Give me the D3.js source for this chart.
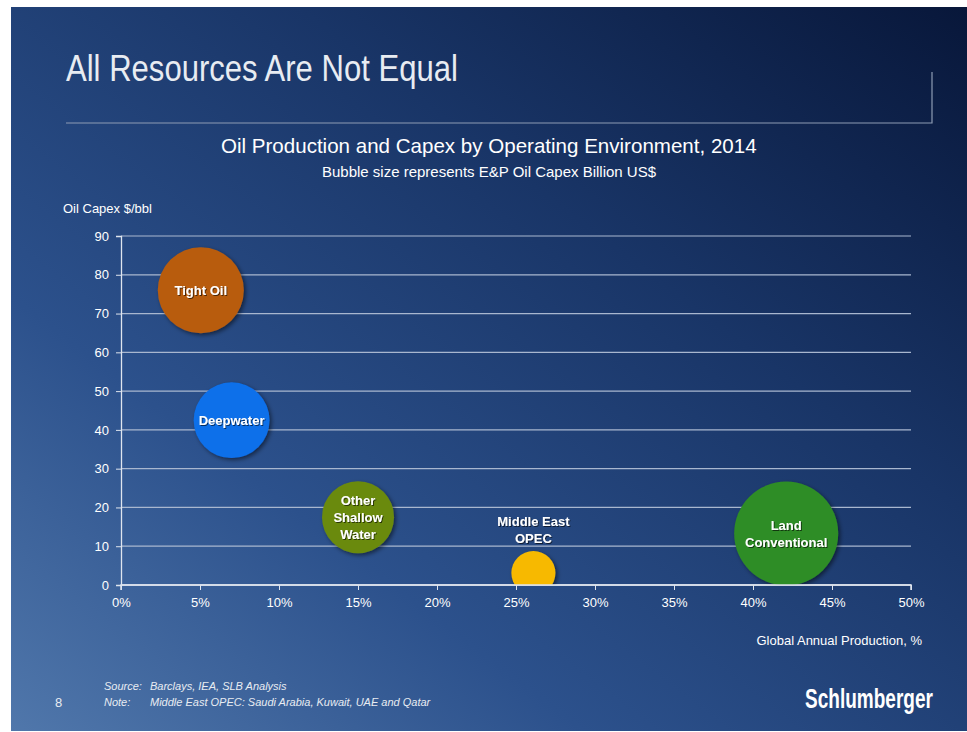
<!DOCTYPE html>
<html>
<head>
<meta charset="utf-8">
<script src="https://cdn.jsdelivr.net/npm/d3@7"></script>
<style>
  body { margin:0; background:#fff; }
  svg { display:block; }
  text { font-family:"Liberation Sans Narrow","Liberation Sans",Arial,sans-serif; }
</style>
</head>
<body>
<svg width="967" height="732"></svg>
<script>
  const svgWidth=967;
  const svgHeight=732;

  // data
  const environments=["Tight Oil","Deepwater","Other Shallow Water","Middle East OPEC","Land Conventional"];
  const production=[5.05,7.0,15.0,26.1,42.1];   // Global annual production, %
  const capexPerBbl=[76,42.5,17.5,3.1,13.3];    // Oil capex $/bbl
  const capexBillion=[130,101,91,34,190];       // E&P oil capex, billion US$
  const bubbleColors=["#b85c0e","#0b6fea","#6b8a10","#f7b900","#2f8d25"];
  const labelLines=[["Tight Oil"],["Deepwater"],["Other","Shallow","Water"],["Middle East","OPEC"],["Land","Conventional"]];
  const yTicks=[0,10,20,30,40,50,60,70,80,90];
  const xTicks=[0,5,10,15,20,25,30,35,40,45,50];

  const margin={top:236,left:121,bottom:732-585,right:967-911};
  const width=svgWidth-(margin.left+margin.right);
  const height=svgHeight-(margin.top+margin.bottom);

  const svg=d3.select("svg");
  const defs=svg.append("defs");

  const bg=defs.append("linearGradient")
    .attr("id","bg").attr("x1","0").attr("y1","1").attr("x2","1").attr("y2","0");
  bg.append("stop").attr("offset","0%").attr("stop-color","#5077ab");
  bg.append("stop").attr("offset","30%").attr("stop-color","#2c518c");
  bg.append("stop").attr("offset","65%").attr("stop-color","#193567");
  bg.append("stop").attr("offset","100%").attr("stop-color","#08173a");

  const shadow=defs.append("filter").attr("id","shadow")
    .attr("x","-30%").attr("y","-30%").attr("width","160%").attr("height","160%");
  shadow.append("feDropShadow").attr("dx",2).attr("dy",2).attr("stdDeviation",2)
    .attr("flood-color","#000").attr("flood-opacity",0.5);

  const txtShadow=defs.append("filter").attr("id","tshadow");
  txtShadow.append("feDropShadow").attr("dx",1).attr("dy",1).attr("stdDeviation",0.6)
    .attr("flood-color","#000").attr("flood-opacity",0.6);

  defs.append("clipPath").attr("id","plotclip")
    .append("rect").attr("x",-100).attr("y",-100).attr("width",width+200).attr("height",height+100);

  svg.append("rect")
    .attr("x",11).attr("y",7).attr("width",956).attr("height",724)
    .attr("fill","url(#bg)");

  // squeeze a text horizontally so it fills the given width (narrow font look)
  function squeeze(sel,x,y,w){
    const natural=sel.node().getComputedTextLength();
    sel.attr("transform",`translate(${x},${y}) scale(${Math.min(1,w/natural)},1)`);
    return sel;
  }

  // title and frame line
  const title=svg.append("text")
    .text("All Resources Are Not Equal")
    .style("font-size","37px")
    .style("fill","#e8ecf2");
  squeeze(title,66,81,392);

  svg.append("path")
    .attr("d","M66,123 H932 V72")
    .attr("fill","none")
    .attr("stroke","#8e9cb3")
    .attr("stroke-width",1.2);

  const sub=svg.append("text")
    .text("Oil Production and Capex by Operating Environment, 2014")
    .style("font-size","21px")
    .style("fill","#ffffff");
  squeeze(sub,221,153,536);

  svg.append("text")
    .text("Bubble size represents E&P Oil Capex Billion US$")
    .attr("x",489).attr("y",177)
    .attr("text-anchor","middle")
    .style("font-size","15px")
    .style("fill","#ffffff");

  svg.append("text")
    .text("Oil Capex $/bbl")
    .attr("x",63).attr("y",213)
    .style("font-size","13px")
    .style("fill","#ffffff");

  const xScale=d3.scaleLinear().domain([0,50]).range([0,width]);
  const yScale=d3.scaleLinear().domain([0,90]).range([height,0]);
  const rScale=d3.scaleSqrt().domain([0,d3.max(capexBillion)]).range([0,52]);

  const g=svg.append("g").attr("transform",`translate(${margin.left},${margin.top})`);

  // gridlines
  g.append("g")
    .selectAll("line")
    .data(yTicks.filter(d=>d>0))
    .enter()
    .append("line")
    .attr("x1",0).attr("x2",width)
    .attr("y1",d=>yScale(d)).attr("y2",d=>yScale(d))
    .attr("stroke","#a9b7cf")
    .attr("stroke-width",1.2);

  const yAxis=d3.axisLeft(yScale).tickValues(yTicks).tickSize(5).tickPadding(7).tickFormat(d=>d);
  g.append("g")
    .attr("class","yAxis")
    .call(yAxis)
    .call(a=>a.select(".domain").attr("stroke","#dfe5ee").attr("stroke-width",1.3))
    .call(a=>a.selectAll(".tick line").attr("stroke","#dfe5ee"))
    .selectAll("text")
    .style("font-size","13px")
    .style("fill","#ffffff")
    .style("font-family","'Liberation Sans Narrow',Arial,sans-serif");

  const xAxis=d3.axisBottom(xScale).tickValues(xTicks).tickSize(5).tickPadding(8).tickFormat(d=>d+"%");
  g.append("g")
    .attr("class","xAxis")
    .attr("transform",`translate(0,${height})`)
    .call(xAxis)
    .call(a=>a.select(".domain").attr("stroke","#dfe5ee").attr("stroke-width",1.5).attr("d",`M0,5V0H${width}V5`))
    .call(a=>a.selectAll(".tick line").attr("stroke","#dfe5ee"))
    .selectAll("text")
    .style("font-size","13px")
    .style("fill","#ffffff")
    .style("font-family","'Liberation Sans Narrow',Arial,sans-serif");

  const data=environments.map((name,i)=>({
    name:name,
    x:production[i],
    y:capexPerBbl[i],
    size:capexBillion[i],
    color:bubbleColors[i],
    lines:labelLines[i]
  }));

  const bubbles=g.append("g").attr("clip-path","url(#plotclip)");
  bubbles.selectAll("circle")
    .data(data)
    .enter()
    .append("circle")
    .attr("cx",d=>xScale(d.x))
    .attr("cy",d=>yScale(d.y))
    .attr("r",d=>rScale(d.size))
    .style("fill",d=>d.color)
    .attr("filter","url(#shadow)");

  // redraw axis line over clipped bubbles
  g.append("line")
    .attr("x1",0).attr("x2",width)
    .attr("y1",height).attr("y2",height)
    .attr("stroke","#dfe5ee").attr("stroke-width",1.5);

  const labels=g.append("g");
  data.forEach(d=>{
    const n=d.lines.length;
    const lh=17;
    const outside=d.name==="Middle East OPEC";
    const cy=outside ? yScale(d.y)-rScale(d.size)-lh*n/2-4 : yScale(d.y);
    const t=labels.append("text")
      .attr("text-anchor","middle")
      .attr("filter","url(#tshadow)")
      .style("font-size","13px")
      .style("font-weight","bold")
      .style("fill","#ffffff")
      .style("font-family","'Liberation Sans',Arial,sans-serif");
    d.lines.forEach((l,j)=>{
      t.append("tspan")
        .attr("x",xScale(d.x))
        .attr("y",cy+(j-(n-1)/2)*lh+5)
        .text(l);
    });
  });

  svg.append("text")
    .text("Global Annual Production, %")
    .attr("x",922).attr("y",645)
    .attr("text-anchor","end")
    .style("font-size","13px")
    .style("fill","#ffffff");

  // footer
  svg.append("text").text("8")
    .attr("x",55).attr("y",707)
    .style("font-size","13px").style("fill","#e8ecf2");

  const foot=[["Source:","Barclays, IEA, SLB Analysis",690],["Note:","Middle East OPEC: Saudi Arabia, Kuwait,  UAE and Qatar",706]];
  foot.forEach(f=>{
    svg.append("text").text(f[0])
      .attr("x",104).attr("y",f[2])
      .style("font-size","11px").style("font-style","italic").style("fill","#e8ecf2");
    svg.append("text").text(f[1])
      .attr("x",150).attr("y",f[2])
      .style("font-size","11px").style("font-style","italic").style("fill","#e8ecf2");
  });

  const logo=svg.append("text").text("Schlumberger")
    .style("font-size","27px")
    .style("font-weight","bold")
    .style("fill","#ffffff");
  squeeze(logo,805,708,128);
</script>
</body>
</html>
